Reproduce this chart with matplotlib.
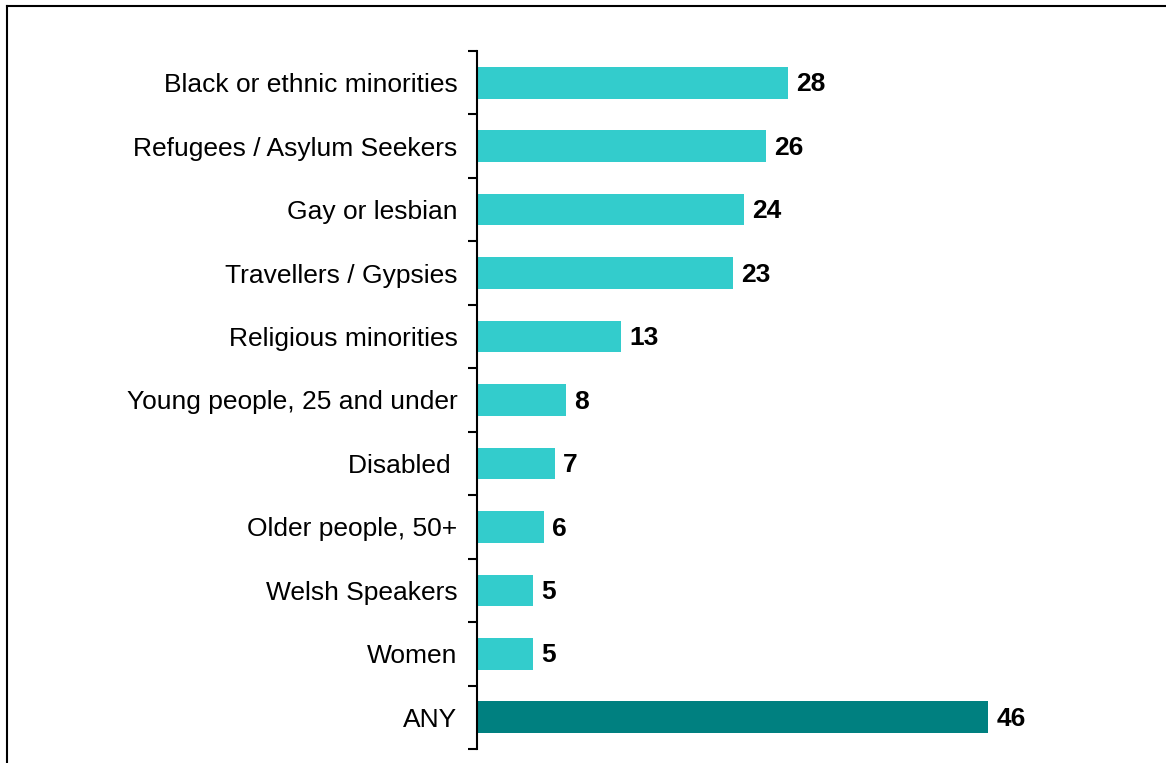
import matplotlib
matplotlib.use("Agg")
import matplotlib.pyplot as plt
from matplotlib.lines import Line2D

plt.rcParams['font.family'] = ['Liberation Sans', 'DejaVu Sans']

categories = [
    "Black or ethnic minorities",
    "Refugees / Asylum Seekers",
    "Gay or lesbian",
    "Travellers / Gypsies",
    "Religious minorities",
    "Young people, 25 and under",
    "Disabled ",
    "Older people, 50+",
    "Welsh Speakers",
    "Women",
    "ANY",
]
values = [28, 26, 24, 23, 13, 8, 7, 6, 5, 5, 46]
colors = ["#33CCCC"] * 10 + ["#008080"]

W, H = 1166, 763
fig = plt.figure(figsize=(W / 100, H / 100), dpi=100)
ax = fig.add_axes([477 / W, 1 - 749 / H, (W - 477) / W, (749 - 51) / H])

y = list(range(len(categories)))
ax.barh(y, values, height=0.5, color=colors, zorder=2)

for yi, v in zip(y, values):
    ax.annotate(str(v), xy=(v, yi), xytext=(6, -1.2), textcoords="offset points",
                ha="left", va="center", fontsize=19, fontweight="bold",
                color="black")

ax.set_ylim(len(categories) - 0.5, -0.5)
ax.set_xlim(0, 62)

ax.set_yticks(y)
ax.set_yticklabels(categories, fontsize=19)
ax.tick_params(axis="y", which="major", length=0, pad=14)
ax.set_yticks([i - 0.5 for i in range(len(categories) + 1)], minor=True)
ax.tick_params(axis="y", which="minor", length=6.5, width=1.5, direction="out")
ax.set_xticks([])

for side in ["top", "right", "bottom"]:
    ax.spines[side].set_visible(False)
ax.spines["left"].set_linewidth(1.5)

# outer frame (left and top edges)
fig.add_artist(Line2D([7 / W, 7 / W], [0, 1 - 6 / H], transform=fig.transFigure,
                      color="black", linewidth=1.5))
fig.add_artist(Line2D([7 / W, 1], [1 - 6 / H, 1 - 6 / H], transform=fig.transFigure,
                      color="black", linewidth=1.5))

fig.savefig("out.png", dpi=100)
